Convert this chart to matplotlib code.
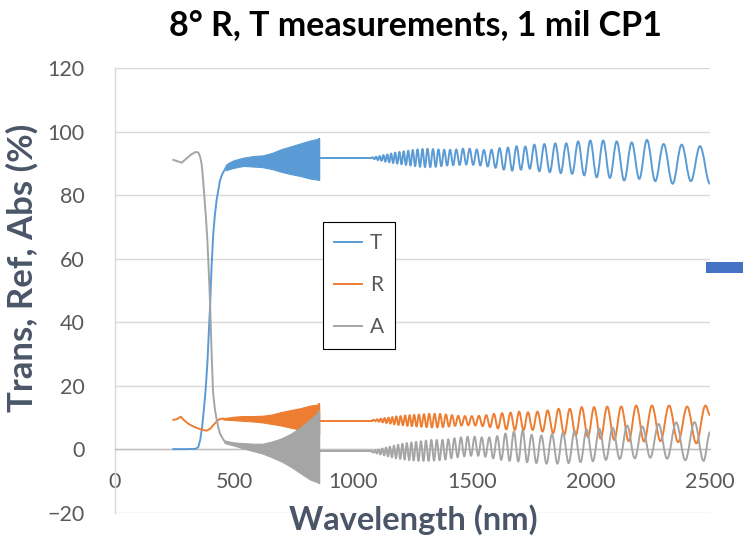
import matplotlib
matplotlib.use("Agg")
import matplotlib.pyplot as plt
from matplotlib.path import Path
from matplotlib.patches import PathPatch, Rectangle
from matplotlib.lines import Line2D

plt.rcParams['font.family'] = ['Lato', 'DejaVu Sans']

# ---------------- data ----------------
title = "8° R, T measurements, 1 mil CP1"
x_label = "Wavelength (nm)"
y_label = "Trans, Ref, Abs (%)"
series_names = ["T", "R", "A"]
x_ticks = [0, 500, 1000, 1500, 2000, 2500]
y_ticks = [-20, 0, 20, 40, 60, 80, 100, 120]

# UV edge region (nm, %)
T_uv_x = [245, 300, 340, 350, 358, 366, 374, 381, 388, 395, 400, 406, 413, 420, 427, 435, 441, 450, 465]
T_uv_y = [0.1, 0.1, 0.2, 0.8, 3, 7, 13, 19, 27, 38, 46, 58, 68, 74, 78.5, 82, 84.5, 86.5, 88.6]
R_uv_x = [245, 262, 276, 290, 310, 330, 350, 370, 385, 400, 415, 430, 441, 455]
R_uv_y = [9.3, 9.6, 10.3, 9.2, 8.0, 7.2, 6.6, 6.1, 5.9, 6.5, 7.8, 9.0, 9.6, 9.7]
A_uv_x = [245, 265, 280, 300, 320, 340, 350, 358, 364, 370, 376, 382, 388, 394, 400, 406, 412, 420, 427, 434, 441, 452, 460]
A_uv_y = [91.1, 90.6, 90.2, 91.5, 92.8, 93.6, 93.4, 92, 89.8, 85, 79, 73, 66, 56, 45, 30, 18, 12.5, 9.5, 7, 5, 3.5, 2.6]

# dense (unresolved) fringe band 460-858 nm: envelopes
T_band_x = [465, 480, 500, 540, 580, 620, 660, 700, 740, 780, 820, 858]
T_band_hi = [89.5, 90.3, 91.0, 91.8, 92.3, 92.5, 93.3, 94.5, 95.4, 96.3, 97.2, 97.8]
T_band_lo = [87.8, 88.2, 88.6, 89.2, 89.0, 88.8, 88.2, 87.3, 86.6, 86.0, 85.2, 84.8]
R_band_x = [455, 500, 540, 580, 620, 660, 700, 740, 780, 820, 858]
R_band_hi = [9.8, 10.3, 10.5, 10.5, 10.6, 11.0, 11.8, 12.4, 13.0, 13.8, 14.2]
R_band_lo = [9.4, 9.2, 9.0, 8.8, 8.5, 8.0, 7.5, 6.8, 6.2, 5.5, 5.0]
A_band_x = [460, 500, 540, 580, 620, 660, 700, 740, 780, 820, 858]
A_band_hi = [2.8, 2.2, 2.0, 1.8, 1.8, 2.5, 3.5, 5.0, 7.0, 9.5, 12.0]
A_band_lo = [2.0, 1.2, 0.3, -0.5, -1.3, -2.5, -3.8, -5.5, -7.5, -9.5, -10.5]

# flat part after detector change
T_flat_x = [858, 1075]
T_flat_y = [91.6, 91.6]
R_flat_x = [858, 1078]
R_flat_y = [9.1, 9.1]
A_flat_x = [858, 1078]
A_flat_y = [-0.6, -0.6]

# resolved fringes: peaks and troughs (nm, %)
T_peak_x = [1083, 1097, 1112, 1128, 1144, 1160, 1177, 1195, 1213, 1232, 1251, 1271, 1292, 1313, 1336, 1359,
            1383, 1408, 1434, 1462, 1490, 1520, 1550, 1582, 1616, 1651, 1687, 1724, 1762, 1804, 1850, 1896,
            1946, 1997, 2051, 2108, 2171, 2235, 2305, 2381, 2458]
T_peak_y = [91.9, 92.1, 92.3, 92.6, 92.8, 93.1, 93.4, 93.6, 93.8, 94.0, 94.2, 94.4, 94.5, 94.6, 94.5, 94.4,
            94.3, 94.3, 94.4, 94.6, 94.6, 94.4, 94.2, 94.3, 94.8, 95.0, 95.4, 95.3, 95.9, 96.1, 96.3, 96.3,
            96.9, 97.2, 97.2, 96.9, 96.6, 97.4, 96.1, 95.9, 95.4]
T_trough_x = [1090, 1104.5, 1120, 1136, 1152, 1168.5, 1186, 1204, 1222.5, 1241.5, 1261, 1281.5, 1302.5, 1324.5,
              1347.5, 1371, 1395.5, 1421, 1448, 1476, 1505, 1535, 1566, 1599, 1633.5, 1669, 1705.5, 1743, 1783,
              1827, 1873, 1921, 1971.5, 2024, 2079.5, 2139.5, 2203, 2270, 2343, 2419.5, 2500]
T_trough_y = [91.3, 91.0, 90.8, 90.5, 90.3, 90.1, 89.9, 89.7, 89.5, 89.3, 89.1, 88.9, 88.8, 88.8,
              88.9, 89.1, 89.3, 89.4, 89.5, 89.6, 89.5, 89.3, 89.0, 88.6, 88.0, 87.7, 88.0, 88.3, 87.5,
              87.2, 86.9, 86.7, 86.2, 85.6, 85.4, 84.6, 85.1, 84.4, 83.6, 84.4, 83.6]

R_peak_x = [1087, 1101.5, 1117, 1133, 1149, 1165, 1182, 1200, 1219, 1238, 1257, 1277, 1298, 1320, 1343, 1366,
            1390.5, 1416, 1442, 1470, 1499, 1529, 1560, 1592, 1626.5, 1662, 1698, 1735, 1775, 1818, 1864, 1911,
            1961, 2013, 2068, 2127, 2190, 2256, 2328, 2404, 2481]
R_peak_y = [9.3, 9.5, 9.7, 9.9, 10.0, 10.2, 10.4, 10.5, 10.7, 10.8, 10.9, 11.0, 11.1, 11.2, 11.2, 11.2,
            11.0, 10.8, 10.6, 10.5, 10.5, 10.6, 10.8, 11.2, 11.4, 11.6, 11.9, 11.7, 11.9, 12.3, 12.8, 12.8,
            13.3, 13.3, 13.5, 13.5, 13.8, 13.8, 13.8, 13.5, 13.8]
R_trough_x = [1094, 1109, 1125, 1141, 1157, 1173.5, 1191, 1209.5, 1228.5, 1247.5, 1267, 1287.5, 1309, 1331.5,
              1354.5, 1378, 1403, 1429, 1456, 1484.5, 1514, 1544.5, 1576, 1609, 1644, 1680, 1716.5, 1755,
              1796.5, 1841, 1887.5, 1936, 1987, 2040.5, 2097.5, 2158.5, 2223, 2292, 2366, 2442.5, 2500]
R_trough_y = [8.9, 8.7, 8.5, 8.3, 8.1, 7.9, 7.7, 7.6, 7.4, 7.3, 7.2, 7.1, 7.0, 6.9,
              6.9, 7.0, 7.2, 7.4, 7.5, 7.6, 7.5, 7.3, 7.0, 6.6, 6.3, 6.1, 6.0, 6.1,
              5.6, 5.1, 4.6, 4.4, 3.9, 3.4, 3.0, 2.6, 2.5, 2.6, 2.3, 1.9, 10.8]

A_peak_x = [1093, 1107.5, 1123, 1139, 1155, 1172, 1189.5, 1207.5, 1226, 1245, 1265, 1285.5, 1306.5, 1329,
            1352, 1376, 1400.5, 1426, 1453.5, 1481.5, 1511, 1541, 1572.5, 1606, 1640.5, 1676, 1713, 1750.5,
            1791.5, 1836, 1882, 1931, 1981.5, 2035, 2091, 2152, 2216, 2284, 2358, 2435, 2500]
A_peak_y = [-0.3, 0.0, 0.3, 0.6, 0.9, 1.2, 1.5, 1.8, 2.0, 2.2, 2.4, 2.6, 2.8, 3.0,
            3.0, 3.0, 3.2, 3.5, 3.8, 4.0, 4.0, 3.8, 3.8, 4.2, 5.0, 5.6, 6.0, 4.6,
            4.4, 4.8, 5.3, 5.8, 6.3, 6.5, 6.8, 7.5, 7.2, 8.0, 8.5, 8.6, 5.4]
A_trough_x = [1086, 1100, 1115, 1131, 1147, 1163.5, 1180.5, 1198.5, 1217, 1236, 1255, 1275, 1296, 1317.5,
              1340.5, 1364, 1388, 1413, 1439.5, 1467.5, 1496, 1526, 1556, 1589, 1623, 1658, 1694.5, 1731.5,
              1770.5, 1813, 1859, 1906, 1956, 2008, 2062.5, 2120.5, 2184, 2249, 2320, 2396, 2473]
A_trough_y = [-1.0, -1.3, -1.6, -1.9, -2.2, -2.5, -2.8, -3.0, -3.2, -3.4, -3.5, -3.6, -3.6, -3.6,
              -3.5, -3.4, -3.2, -2.8, -2.5, -2.2, -2.0, -2.0, -2.3, -2.8, -3.3, -3.6, -3.8, -4.0,
              -4.3, -4.5, -4.5, -4.3, -4.0, -3.7, -3.3, -3.0, -2.8, -2.6, -2.9, -3.4, -3.6]

colors = {"T": "#5B9BD5", "R": "#ED7D31", "A": "#A5A5A5"}

# ---------------- figure ----------------
W, H = 743, 540
fig = plt.figure(figsize=(W / 100, H / 100), dpi=100)
ax = fig.add_axes([115 / W, 1 - 513 / H, 595 / W, 445 / H])
ax.set_xlim(0, 2500)
ax.set_ylim(-20, 120)
ax.set_xticks(x_ticks)
ax.set_yticks(y_ticks)

ax.yaxis.grid(True, color="#D9D9D9", lw=1.0, zorder=0)
ax.set_axisbelow(True)
for s in ["top", "right"]:
    ax.spines[s].set_visible(False)
ax.spines["left"].set_color("#D9D9D9")
ax.spines["left"].set_linewidth(1.0)
ax.spines["bottom"].set_position(("data", 0))
ax.spines["bottom"].set_color("#BFBFBF")
ax.spines["bottom"].set_linewidth(1.0)
ax.tick_params(axis="both", length=0, labelsize=15.5, labelcolor="#595959")
ax.tick_params(axis="x", pad=16)
ax.tick_params(axis="y", pad=22)


def smooth_path(xs, ys, c=0.363):
    verts = [(xs[0], ys[0])]
    codes = [Path.MOVETO]
    for i in range(len(xs) - 1):
        dx = xs[i + 1] - xs[i]
        verts += [(xs[i] + c * dx, ys[i]), (xs[i + 1] - c * dx, ys[i + 1]), (xs[i + 1], ys[i + 1])]
        codes += [Path.CURVE4] * 3
    return Path(verts, codes)


def draw_series(name, uv_x, uv_y, bx, bhi, blo, fx, fy, px, py, tx, ty, z):
    col = colors[name]
    lw = 1.4
    ax.plot(uv_x, uv_y, color=col, lw=lw, zorder=z, solid_joinstyle="round")
    ax.fill_between(bx, blo, bhi, color=col, lw=0.8, edgecolor=col, zorder=z)
    ax.plot([bx[-1], bx[-1]], [blo[-1], bhi[-1]], color=col, lw=lw, zorder=z)
    ax.plot(fx, fy, color=col, lw=lw, zorder=z)
    pts = sorted(list(zip(px, py)) + list(zip(tx, ty)))
    xs = [fx[-1]] + [p[0] for p in pts]
    ys = [fy[-1]] + [p[1] for p in pts]
    ax.add_patch(PathPatch(smooth_path(xs, ys), fill=False, edgecolor=col, lw=lw,
                           zorder=z, joinstyle="round", capstyle="round"))


draw_series("T", T_uv_x, T_uv_y, T_band_x, T_band_hi, T_band_lo, T_flat_x, T_flat_y,
            T_peak_x, T_peak_y, T_trough_x, T_trough_y, 3)
draw_series("R", R_uv_x, R_uv_y, R_band_x, R_band_hi, R_band_lo, R_flat_x, R_flat_y,
            R_peak_x, R_peak_y, R_trough_x, R_trough_y, 4)
draw_series("A", A_uv_x, A_uv_y, A_band_x, A_band_hi, A_band_lo, A_flat_x, A_flat_y,
            A_peak_x, A_peak_y, A_trough_x, A_trough_y, 5)

handles = [Line2D([], [], color=colors[n], lw=1.4) for n in series_names]
leg = ax.legend(handles, series_names, loc="upper left",
                bbox_to_anchor=(323 / W, 1 - 222 / H), bbox_transform=fig.transFigure,
                borderaxespad=0, frameon=True, fancybox=False, framealpha=1,
                edgecolor="black", fontsize=15, labelspacing=1.05, handlelength=1.3,
                handletextpad=0.4, borderpad=0.55, labelcolor="#595959")
leg.get_frame().set_linewidth(0.8)
leg.set_zorder(10)

fig.text(415 / W, 1 - 25 / H, title, ha="center", va="center", fontsize=24.5,
         fontweight="bold", color="black")
fig.text(413 / W, 1 - 520 / H, x_label, ha="center", va="center", fontsize=23.5,
         fontweight="bold", color="#4A5668")
fig.text(22 / W, 1 - 268 / H, y_label, ha="center", va="center", fontsize=25,
         fontweight="bold", color="#4A5668", rotation=90)

fig.patches.append(Rectangle((706 / W, 1 - 273 / H), 37 / W, 11 / H, transform=fig.transFigure,
                             facecolor="#4472C4", edgecolor="none"))

fig.savefig("out.png", dpi=100)
